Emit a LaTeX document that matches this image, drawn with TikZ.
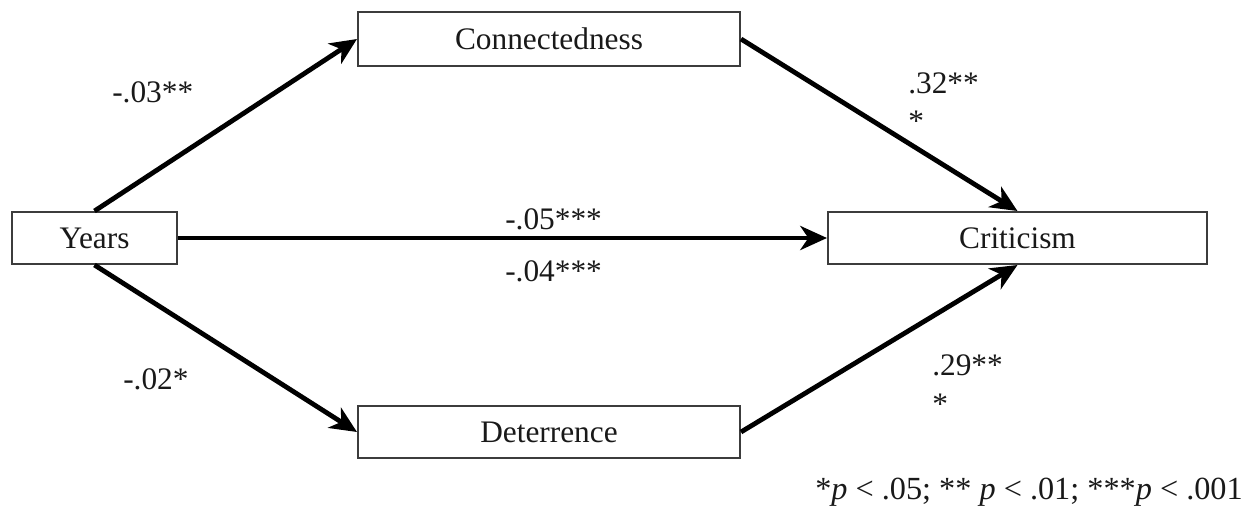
\documentclass[tikz,border=0pt]{standalone}
\usepackage{fontspec}
\setmainfont{Liberation Serif}
\usetikzlibrary{arrows.meta}
\definecolor{boxline}{RGB}{60,60,60}
\definecolor{txt}{RGB}{25,25,25}
\tikzset{
  box/.style={draw=boxline, line width=1.5pt, fill=white, inner sep=0pt, font=\fontsize{23.5}{28}\selectfont, text=txt},
  path/.style={line width=3.6pt, -{Stealth[length=20pt, width=18pt, inset=6pt]}},
  lbl/.style={inner sep=0pt, font=\fontsize{23.5}{28}\selectfont, text=txt}
}
\begin{document}
\begin{tikzpicture}[x=0.75pt, y=-0.75pt]
\useasboundingbox (0,0) rectangle (1245,507);
\node[box, minimum width={382*0.75pt}, minimum height={54*0.75pt}] (con) at (549,39) {Connectedness};
\node[box, minimum width={165*0.75pt}, minimum height={52*0.75pt}] (yrs) at (94.5,238) {Years};
\node[box, minimum width={379*0.75pt}, minimum height={52*0.75pt}] (cri) at (1017.5,238) {Criticism};
\node[box, minimum width={382*0.75pt}, minimum height={52*0.75pt}] (det) at (549,432) {Deterrence};
\draw[path] (yrs.north) -- (con.west);
\draw[path] (con.east) -- (cri.north);
\draw[path] (yrs.east) -- (cri.west);
\draw[path] (yrs.south) -- (det.west);
\draw[path] (det.east) -- (cri.south);
\node[lbl, anchor=base west] (l1) at (112,102) {-.03**};
\node[lbl, anchor=base west] (l2a) at (908,93) {.32**};
\node[lbl, anchor=base west] (l2b) at (908,131) {*};
\node[lbl, anchor=base west] (l3) at (505,229) {-.05***};
\node[lbl, anchor=base west] (l4) at (505,281) {-.04***};
\node[lbl, anchor=base west] (l5) at (123,389) {-.02*};
\node[lbl, anchor=base west] (l6a) at (932,375) {.29**};
\node[lbl, anchor=base west] (l6b) at (932,414) {*};
\node[lbl, anchor=base west, font=\fontsize{24.2}{28}\selectfont] (fn) at (815,499) {*\textit{p} < .05; ** \textit{p} < .01; ***\textit{p} < .001};
\end{tikzpicture}
\end{document}
